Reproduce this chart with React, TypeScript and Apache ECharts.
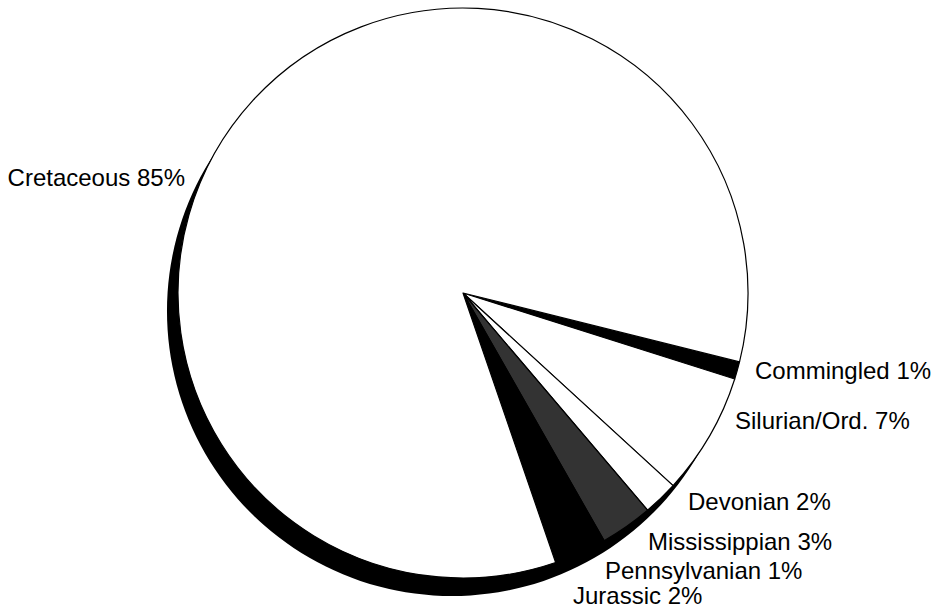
import React, { useEffect, useRef } from "react";
import * as echarts from "echarts";

// Data (percent of total)
const CATEGORIES = [
  "Commingled",
  "Silurian/Ord.",
  "Devonian",
  "Mississippian",
  "Pennsylvanian",
  "Jurassic",
  "Cretaceous",
];
const VALUES = [1, 7, 2, 3, 1, 2, 85];
const COLORS = ["#000000", "#ffffff", "#ffffff", "#333333", "#000000", "#000000", "#ffffff"];

// Label anchor positions (x, y, align) in pixels
const LABEL_POS: [number, number, string][] = [
  [755, 370, "left"],
  [735, 420, "left"],
  [688, 501, "left"],
  [648, 541, "left"],
  [605, 570, "left"],
  [573, 595, "left"],
  [185, 177, "right"],
];

const CENTER: [number, number] = [463, 293];
const RADIUS = 285;
const SHADOW_OFFSET: [number, number] = [-11, 18];

export default function App() {
  const ref = useRef<HTMLDivElement>(null);
  useEffect(() => {
    document.body.style.margin = "0";
    const chart = echarts.init(ref.current!, undefined, { renderer: "svg" });
    const data = CATEGORIES.map((name, i) => ({
      name,
      value: VALUES[i],
      itemStyle: { color: COLORS[i] },
    }));
    chart.setOption({
      animation: false,
      backgroundColor: "#ffffff",
      series: [
        {
          type: "pie",
          silent: true,
          center: [CENTER[0] + SHADOW_OFFSET[0], CENTER[1] + SHADOW_OFFSET[1]],
          radius: RADIUS,
          label: { show: false },
          labelLine: { show: false },
          itemStyle: { color: "#000000", borderWidth: 0 },
          emphasis: { disabled: true },
          data: [{ name: "shadow", value: 1 }],
        },
        {
          type: "pie",
          silent: true,
          center: CENTER,
          radius: RADIUS,
          startAngle: -14,
          clockwise: true,
          avoidLabelOverlap: false,
          itemStyle: { borderColor: "#000000", borderWidth: 1.2 },
          emphasis: { disabled: true },
          label: {
            show: true,
            position: "outside",
            formatter: "{b} {c}%",
            fontFamily: "Liberation Sans, Arial, sans-serif",
            fontSize: 24,
            lineHeight: 20,
            color: "#000000",
          },
          labelLine: { show: false },
          labelLayout: (params: any) => {
            const p = LABEL_POS[params.dataIndex];
            return { x: p[0], y: p[1], align: p[2], verticalAlign: "middle", hideOverlap: false };
          },
          data,
        },
      ],
    });
    return () => chart.dispose();
  }, []);
  return <div ref={ref} style={{ width: 937, height: 610 }} />;
}
